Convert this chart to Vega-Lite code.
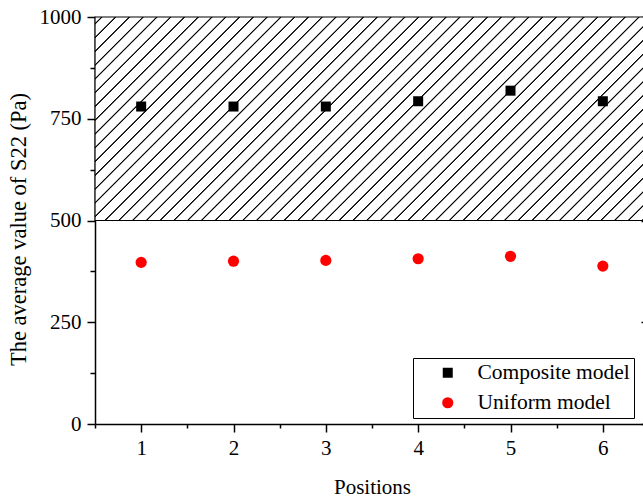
{
  "$schema": "https://vega.github.io/schema/vega-lite/v6.json",
  "width": 554,
  "height": 407,
  "autosize": {"type": "none"},
  "padding": {"left": 95, "top": 17, "right": -6, "bottom": 73},
  "background": "white",
  "config": {
    "view": {"stroke": null},
    "font": "Liberation Serif",
    "axis": {
      "grid": false,
      "domainColor": "black",
      "domainWidth": 1.5,
      "tickColor": "black",
      "tickWidth": 1.5,
      "labelColor": "black",
      "labelFont": "Liberation Serif",
      "labelFontSize": 21,
      "titleFont": "Liberation Serif",
      "titleFontSize": 21,
      "titleFontWeight": "normal",
      "titleColor": "black",
      "labelOverlap": false,
      "labelFlush": false
    },
    "legend": {
      "orient": "none",
      "legendX": 318,
      "legendY": 341,
      "strokeColor": "black",
      "fillColor": "white",
      "padding": 4,
      "symbolOffset": 20,
      "labelOffset": 19,
      "labelFont": "Liberation Serif",
      "labelFontSize": 21.5,
      "labelColor": "black",
      "labelLimit": 0,
      "rowPadding": 7,
      "symbolSize": 100,
      "symbolStrokeWidth": 0
    }
  },
  "datasets": {
    "band": [{"lo": 500, "hi": 1000}],
    "points": [
      {"position": 1, "value": 780, "series": "Composite model"},
      {"position": 2, "value": 780, "series": "Composite model"},
      {"position": 3, "value": 780, "series": "Composite model"},
      {"position": 4, "value": 793, "series": "Composite model"},
      {"position": 5, "value": 819, "series": "Composite model"},
      {"position": 6, "value": 793, "series": "Composite model"},
      {"position": 1, "value": 397, "series": "Uniform model"},
      {"position": 2, "value": 400, "series": "Uniform model"},
      {"position": 3, "value": 402, "series": "Uniform model"},
      {"position": 4, "value": 406, "series": "Uniform model"},
      {"position": 5, "value": 412, "series": "Uniform model"},
      {"position": 6, "value": 388, "series": "Uniform model"}
    ]
  },
  "layer": [
    {
      "data": {"name": "band"},
      "mark": {
        "type": "rect",
        "stroke": "black",
        "strokeWidth": 1.2,
        "fill": {
          "gradient": "linear",
          "x1": 0, "y1": 0, "x2": 1.20477, "y2": 0.44254,
          "stops": [
            {"offset": 0, "color": "#ffffff"},
            {"offset": 0.0074, "color": "#ffffff"}, {"offset": 0.0086, "color": "#000000"}, {"offset": 0.0096, "color": "#000000"}, {"offset": 0.0108, "color": "#ffffff"},
            {"offset": 0.0256, "color": "#ffffff"}, {"offset": 0.0268, "color": "#000000"}, {"offset": 0.0278, "color": "#000000"}, {"offset": 0.0290, "color": "#ffffff"},
            {"offset": 0.0438, "color": "#ffffff"}, {"offset": 0.0450, "color": "#000000"}, {"offset": 0.0460, "color": "#000000"}, {"offset": 0.0472, "color": "#ffffff"},
            {"offset": 0.0619, "color": "#ffffff"}, {"offset": 0.0631, "color": "#000000"}, {"offset": 0.0641, "color": "#000000"}, {"offset": 0.0653, "color": "#ffffff"},
            {"offset": 0.0801, "color": "#ffffff"}, {"offset": 0.0813, "color": "#000000"}, {"offset": 0.0823, "color": "#000000"}, {"offset": 0.0835, "color": "#ffffff"},
            {"offset": 0.0983, "color": "#ffffff"}, {"offset": 0.0995, "color": "#000000"}, {"offset": 0.1005, "color": "#000000"}, {"offset": 0.1017, "color": "#ffffff"},
            {"offset": 0.1165, "color": "#ffffff"}, {"offset": 0.1177, "color": "#000000"}, {"offset": 0.1187, "color": "#000000"}, {"offset": 0.1199, "color": "#ffffff"},
            {"offset": 0.1347, "color": "#ffffff"}, {"offset": 0.1359, "color": "#000000"}, {"offset": 0.1369, "color": "#000000"}, {"offset": 0.1381, "color": "#ffffff"},
            {"offset": 0.1528, "color": "#ffffff"}, {"offset": 0.1540, "color": "#000000"}, {"offset": 0.1550, "color": "#000000"}, {"offset": 0.1562, "color": "#ffffff"},
            {"offset": 0.1710, "color": "#ffffff"}, {"offset": 0.1722, "color": "#000000"}, {"offset": 0.1732, "color": "#000000"}, {"offset": 0.1744, "color": "#ffffff"},
            {"offset": 0.1892, "color": "#ffffff"}, {"offset": 0.1904, "color": "#000000"}, {"offset": 0.1914, "color": "#000000"}, {"offset": 0.1926, "color": "#ffffff"},
            {"offset": 0.2074, "color": "#ffffff"}, {"offset": 0.2086, "color": "#000000"}, {"offset": 0.2096, "color": "#000000"}, {"offset": 0.2108, "color": "#ffffff"},
            {"offset": 0.2256, "color": "#ffffff"}, {"offset": 0.2268, "color": "#000000"}, {"offset": 0.2278, "color": "#000000"}, {"offset": 0.2290, "color": "#ffffff"},
            {"offset": 0.2438, "color": "#ffffff"}, {"offset": 0.2450, "color": "#000000"}, {"offset": 0.2460, "color": "#000000"}, {"offset": 0.2472, "color": "#ffffff"},
            {"offset": 0.2619, "color": "#ffffff"}, {"offset": 0.2631, "color": "#000000"}, {"offset": 0.2641, "color": "#000000"}, {"offset": 0.2653, "color": "#ffffff"},
            {"offset": 0.2801, "color": "#ffffff"}, {"offset": 0.2813, "color": "#000000"}, {"offset": 0.2823, "color": "#000000"}, {"offset": 0.2835, "color": "#ffffff"},
            {"offset": 0.2983, "color": "#ffffff"}, {"offset": 0.2995, "color": "#000000"}, {"offset": 0.3005, "color": "#000000"}, {"offset": 0.3017, "color": "#ffffff"},
            {"offset": 0.3165, "color": "#ffffff"}, {"offset": 0.3177, "color": "#000000"}, {"offset": 0.3187, "color": "#000000"}, {"offset": 0.3199, "color": "#ffffff"},
            {"offset": 0.3347, "color": "#ffffff"}, {"offset": 0.3359, "color": "#000000"}, {"offset": 0.3369, "color": "#000000"}, {"offset": 0.3381, "color": "#ffffff"},
            {"offset": 0.3528, "color": "#ffffff"}, {"offset": 0.3540, "color": "#000000"}, {"offset": 0.3550, "color": "#000000"}, {"offset": 0.3562, "color": "#ffffff"},
            {"offset": 0.3710, "color": "#ffffff"}, {"offset": 0.3722, "color": "#000000"}, {"offset": 0.3732, "color": "#000000"}, {"offset": 0.3744, "color": "#ffffff"},
            {"offset": 0.3892, "color": "#ffffff"}, {"offset": 0.3904, "color": "#000000"}, {"offset": 0.3914, "color": "#000000"}, {"offset": 0.3926, "color": "#ffffff"},
            {"offset": 0.4074, "color": "#ffffff"}, {"offset": 0.4086, "color": "#000000"}, {"offset": 0.4096, "color": "#000000"}, {"offset": 0.4108, "color": "#ffffff"},
            {"offset": 0.4256, "color": "#ffffff"}, {"offset": 0.4268, "color": "#000000"}, {"offset": 0.4278, "color": "#000000"}, {"offset": 0.4290, "color": "#ffffff"},
            {"offset": 0.4438, "color": "#ffffff"}, {"offset": 0.4450, "color": "#000000"}, {"offset": 0.4460, "color": "#000000"}, {"offset": 0.4472, "color": "#ffffff"},
            {"offset": 0.4619, "color": "#ffffff"}, {"offset": 0.4631, "color": "#000000"}, {"offset": 0.4641, "color": "#000000"}, {"offset": 0.4653, "color": "#ffffff"},
            {"offset": 0.4801, "color": "#ffffff"}, {"offset": 0.4813, "color": "#000000"}, {"offset": 0.4823, "color": "#000000"}, {"offset": 0.4835, "color": "#ffffff"},
            {"offset": 0.4983, "color": "#ffffff"}, {"offset": 0.4995, "color": "#000000"}, {"offset": 0.5005, "color": "#000000"}, {"offset": 0.5017, "color": "#ffffff"},
            {"offset": 0.5165, "color": "#ffffff"}, {"offset": 0.5177, "color": "#000000"}, {"offset": 0.5187, "color": "#000000"}, {"offset": 0.5199, "color": "#ffffff"},
            {"offset": 0.5347, "color": "#ffffff"}, {"offset": 0.5359, "color": "#000000"}, {"offset": 0.5369, "color": "#000000"}, {"offset": 0.5381, "color": "#ffffff"},
            {"offset": 0.5528, "color": "#ffffff"}, {"offset": 0.5540, "color": "#000000"}, {"offset": 0.5550, "color": "#000000"}, {"offset": 0.5562, "color": "#ffffff"},
            {"offset": 0.5710, "color": "#ffffff"}, {"offset": 0.5722, "color": "#000000"}, {"offset": 0.5732, "color": "#000000"}, {"offset": 0.5744, "color": "#ffffff"},
            {"offset": 0.5892, "color": "#ffffff"}, {"offset": 0.5904, "color": "#000000"}, {"offset": 0.5914, "color": "#000000"}, {"offset": 0.5926, "color": "#ffffff"},
            {"offset": 0.6074, "color": "#ffffff"}, {"offset": 0.6086, "color": "#000000"}, {"offset": 0.6096, "color": "#000000"}, {"offset": 0.6108, "color": "#ffffff"},
            {"offset": 0.6256, "color": "#ffffff"}, {"offset": 0.6268, "color": "#000000"}, {"offset": 0.6278, "color": "#000000"}, {"offset": 0.6290, "color": "#ffffff"},
            {"offset": 0.6438, "color": "#ffffff"}, {"offset": 0.6450, "color": "#000000"}, {"offset": 0.6460, "color": "#000000"}, {"offset": 0.6472, "color": "#ffffff"},
            {"offset": 0.6619, "color": "#ffffff"}, {"offset": 0.6631, "color": "#000000"}, {"offset": 0.6641, "color": "#000000"}, {"offset": 0.6653, "color": "#ffffff"},
            {"offset": 0.6801, "color": "#ffffff"}, {"offset": 0.6813, "color": "#000000"}, {"offset": 0.6823, "color": "#000000"}, {"offset": 0.6835, "color": "#ffffff"},
            {"offset": 0.6983, "color": "#ffffff"}, {"offset": 0.6995, "color": "#000000"}, {"offset": 0.7005, "color": "#000000"}, {"offset": 0.7017, "color": "#ffffff"},
            {"offset": 0.7165, "color": "#ffffff"}, {"offset": 0.7177, "color": "#000000"}, {"offset": 0.7187, "color": "#000000"}, {"offset": 0.7199, "color": "#ffffff"},
            {"offset": 0.7347, "color": "#ffffff"}, {"offset": 0.7359, "color": "#000000"}, {"offset": 0.7369, "color": "#000000"}, {"offset": 0.7381, "color": "#ffffff"},
            {"offset": 0.7528, "color": "#ffffff"}, {"offset": 0.7540, "color": "#000000"}, {"offset": 0.7550, "color": "#000000"}, {"offset": 0.7562, "color": "#ffffff"},
            {"offset": 0.7710, "color": "#ffffff"}, {"offset": 0.7722, "color": "#000000"}, {"offset": 0.7732, "color": "#000000"}, {"offset": 0.7744, "color": "#ffffff"},
            {"offset": 0.7892, "color": "#ffffff"}, {"offset": 0.7904, "color": "#000000"}, {"offset": 0.7914, "color": "#000000"}, {"offset": 0.7926, "color": "#ffffff"},
            {"offset": 0.8074, "color": "#ffffff"}, {"offset": 0.8086, "color": "#000000"}, {"offset": 0.8096, "color": "#000000"}, {"offset": 0.8108, "color": "#ffffff"},
            {"offset": 0.8256, "color": "#ffffff"}, {"offset": 0.8268, "color": "#000000"}, {"offset": 0.8278, "color": "#000000"}, {"offset": 0.8290, "color": "#ffffff"},
            {"offset": 0.8438, "color": "#ffffff"}, {"offset": 0.8450, "color": "#000000"}, {"offset": 0.8460, "color": "#000000"}, {"offset": 0.8472, "color": "#ffffff"},
            {"offset": 0.8619, "color": "#ffffff"}, {"offset": 0.8631, "color": "#000000"}, {"offset": 0.8641, "color": "#000000"}, {"offset": 0.8653, "color": "#ffffff"},
            {"offset": 0.8801, "color": "#ffffff"}, {"offset": 0.8813, "color": "#000000"}, {"offset": 0.8823, "color": "#000000"}, {"offset": 0.8835, "color": "#ffffff"},
            {"offset": 0.8983, "color": "#ffffff"}, {"offset": 0.8995, "color": "#000000"}, {"offset": 0.9005, "color": "#000000"}, {"offset": 0.9017, "color": "#ffffff"},
            {"offset": 0.9165, "color": "#ffffff"}, {"offset": 0.9177, "color": "#000000"}, {"offset": 0.9187, "color": "#000000"}, {"offset": 0.9199, "color": "#ffffff"},
            {"offset": 0.9347, "color": "#ffffff"}, {"offset": 0.9359, "color": "#000000"}, {"offset": 0.9369, "color": "#000000"}, {"offset": 0.9381, "color": "#ffffff"},
            {"offset": 0.9528, "color": "#ffffff"}, {"offset": 0.9540, "color": "#000000"}, {"offset": 0.9550, "color": "#000000"}, {"offset": 0.9562, "color": "#ffffff"},
            {"offset": 0.9710, "color": "#ffffff"}, {"offset": 0.9722, "color": "#000000"}, {"offset": 0.9732, "color": "#000000"}, {"offset": 0.9744, "color": "#ffffff"},
            {"offset": 0.9892, "color": "#ffffff"}, {"offset": 0.9904, "color": "#000000"}, {"offset": 0.9914, "color": "#000000"}, {"offset": 0.9926, "color": "#ffffff"},
            {"offset": 1, "color": "#ffffff"}
          ]
        }
      },
      "encoding": {
        "x": {
          "datum": 0.5,
          "type": "quantitative",
          "scale": {"domain": [0.5, 6.5], "nice": false, "zero": false},
          "axis": {
            "orient": "bottom",
            "values": [0.5, 1.5, 2.5, 3.5, 4.5, 5.5, 6.5],
            "tickSize": 4,
            "labels": false,
            "domain": true,
            "title": null
          }
        },
        "x2": {"datum": 6.5},
        "y": {
          "field": "lo",
          "type": "quantitative",
          "scale": {"domain": [0, 1000], "nice": false, "zero": false},
          "axis": {
            "orient": "left",
            "values": [0, 125, 250, 375, 500, 625, 750, 875, 1000],
            "labelExpr": "datum.value % 250 === 0 ? datum.label : ''",
            "format": "d",
            "tickSize": {"condition": {"test": "datum.value % 250 === 0", "value": 8}, "value": 5},
            "labelPadding": 6,
            "title": "The average value of S22 (Pa)",
            "titleFontSize": 22.5,
            "titlePadding": 9,
            "titleY": 212
          }
        },
        "y2": {"field": "hi"}
      }
    },
    {
      "data": {"name": "points"},
      "mark": {"type": "point", "filled": true, "opacity": 1, "strokeWidth": 0},
      "encoding": {
        "x": {
          "field": "position",
          "type": "quantitative",
          "axis": {
            "orient": "bottom",
            "values": [1, 2, 3, 4, 5, 6],
            "format": "d",
            "tickSize": 8,
            "domain": false,
            "labelPadding": 5,
            "title": "Positions",
            "titlePadding": 18
          }
        },
        "y": {
          "field": "value",
          "type": "quantitative",
          "axis": {
            "orient": "right",
            "values": [0, 250, 500, 750, 1000],
            "labels": false,
            "title": null,
            "tickSize": -8
          }
        },
        "color": {
          "field": "series",
          "type": "nominal",
          "scale": {"domain": ["Composite model", "Uniform model"], "range": ["#000000", "#ff0000"]},
          "legend": {"title": null, "labelExpr": "datum.label + '\u00a0\u00a0\u00a0'"}
        },
        "shape": {
          "field": "series",
          "type": "nominal",
          "scale": {"domain": ["Composite model", "Uniform model"], "range": ["square", "circle"]},
          "legend": {"title": null, "labelExpr": "datum.label + '\u00a0\u00a0\u00a0'"}
        },
        "size": {
          "field": "series",
          "type": "nominal",
          "scale": {"domain": ["Composite model", "Uniform model"], "range": [100, 125]},
          "legend": null
        }
      }
    }
  ],
  "resolve": {"axis": {"x": "independent", "y": "independent"}}
}
